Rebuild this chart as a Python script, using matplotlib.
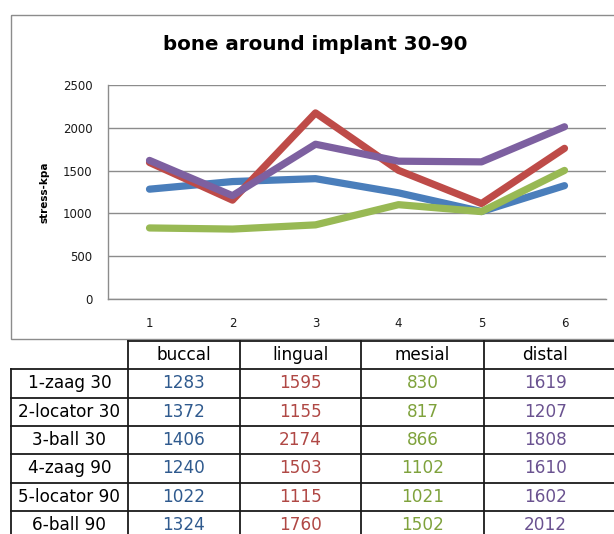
#!/usr/bin/env python3
"""Line chart of bone stress around implants, with the Excel-style data table below."""
import matplotlib
matplotlib.use("Agg")
import matplotlib.pyplot as plt
from matplotlib.patches import Rectangle

# data
cases = ["1-zaag 30", "2-locator 30", "3-ball 30", "4-zaag 90", "5-locator 90", "6-ball 90"]
x_ticks = [1, 2, 3, 4, 5, 6]
sites = ["buccal", "lingual", "mesial", "distal"]
buccal = [1283, 1372, 1406, 1240, 1022, 1324]
lingual = [1595, 1155, 2174, 1503, 1115, 1760]
mesial = [830, 817, 866, 1102, 1021, 1502]
distal = [1619, 1207, 1808, 1610, 1602, 2012]
series = [buccal, lingual, mesial, distal]

line_colors = ["#4A7EBB", "#BE4B48", "#98B954", "#7D60A0"]
text_colors = ["#2F5A8E", "#B04845", "#7FA23C", "#6A5290"]

W, H = 614, 534
fig = plt.figure(figsize=(W / 100, H / 100), dpi=100)

# background layer in pixel coordinates (y down)
bg = fig.add_axes([0, 0, 1, 1], zorder=0)
bg.set_xlim(0, W)
bg.set_ylim(H, 0)
bg.axis("off")

# chart frame
bg.add_patch(Rectangle((11, 15), 620, 324, fill=False, ec="#8C8C8C", lw=1.0))
bg.text(315, 44, "bone around implant 30-90", ha="center", va="center",
        fontsize=14.3, fontweight="bold")

# plot area
left, right, top, bottom = 108, 606, 85, 299
ax = fig.add_axes([left / W, 1 - bottom / H, (right - left) / W, (bottom - top) / H], zorder=1)
ax.patch.set_alpha(0)
for vals, c in zip(series, line_colors):
    ax.plot(x_ticks, vals, color=c, lw=5.2, solid_capstyle="round", solid_joinstyle="round")
ax.set_xlim(0.5, 6.5)
ax.set_ylim(0, 2500)
ax.set_yticks(range(0, 2501, 500))
ax.set_xticks(x_ticks)
ax.yaxis.grid(True, color="#8C8C8C", lw=1.0)
ax.set_axisbelow(True)
for s in ["top", "right"]:
    ax.spines[s].set_visible(False)
for s in ["left", "bottom"]:
    ax.spines[s].set_color("#8C8C8C")
    ax.spines[s].set_linewidth(1.0)
ax.tick_params(length=0, labelsize=8.5, colors="#1a1a1a")
ax.tick_params(axis="y", pad=11)
ax.tick_params(axis="x", pad=13)
ax.set_ylabel("stress-kpa", fontsize=7.5, fontweight="bold", labelpad=10)

# data table
col_x = [11, 128, 240, 361, 484, 607]
row_y = [341 + 28.3 * i for i in range(8)]
tfs = 12.2
lc = "#1a1a1a"
# header row
bg.plot([col_x[1], 620], [row_y[0], row_y[0]], color=lc, lw=1.3)
for j, name in enumerate(sites):
    cx = (col_x[j + 1] + col_x[j + 2]) / 2
    bg.text(cx, (row_y[0] + row_y[1]) / 2, name, ha="center", va="center", fontsize=tfs)
# horizontal lines
for y in row_y[1:]:
    bg.plot([col_x[0], 620], [y, y], color=lc, lw=1.3)
# vertical lines
bg.plot([col_x[0], col_x[0]], [row_y[1], row_y[-1]], color=lc, lw=1.3)
for x in col_x[1:5]:
    bg.plot([x, x], [row_y[0], row_y[-1]], color=lc, lw=1.3)
# body
for i, case in enumerate(cases):
    cy = (row_y[i + 1] + row_y[i + 2]) / 2
    bg.text((col_x[0] + col_x[1]) / 2, cy, case, ha="center", va="center", fontsize=tfs)
    for j, vals in enumerate(series):
        cx = (col_x[j + 1] + col_x[j + 2]) / 2
        bg.text(cx, cy, str(vals[i]), ha="center", va="center", fontsize=tfs,
                color=text_colors[j])

fig.savefig("out.png", dpi=100)
